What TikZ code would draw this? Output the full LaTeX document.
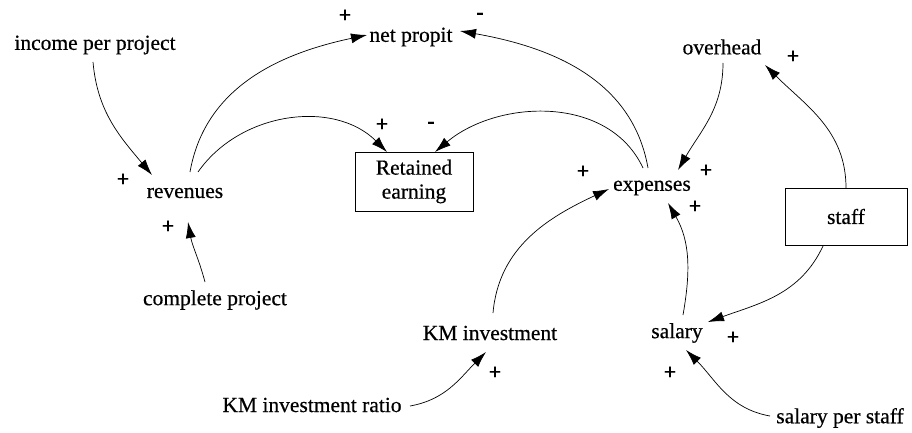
\documentclass[tikz,border=0pt]{standalone}
\usepackage{fontspec}
\setmainfont{Liberation Serif}[FakeBold=0.5]
\usetikzlibrary{arrows.meta}
\begin{document}
\begin{tikzpicture}[x=1pt,y=1pt,
  lbl/.style={font=\fontsize{21.5}{24}\selectfont, inner sep=1pt},
  boxnode/.style={draw, line width=0.9pt, minimum width=118pt, minimum height=59pt, align=center, font=\fontsize{21.5}{24}\selectfont, inner sep=1pt},
  sgn/.style={font=\fontsize{22}{24}\selectfont\bfseries, inner sep=0pt},
  link/.style={line width=0.7pt, -{Latex[length=16pt,width=10pt]}}]
\useasboundingbox (0,0) rectangle (912,432);
% nodes
\node[lbl] (inc) at (95,387) {income per project};
\node[lbl] (net) at (411,395) {net propit};
\node[lbl] (over) at (722,385) {overhead};
\node[lbl] (rev) at (185,239) {revenues};
\node[boxnode] (ret) at (414,250.5) {Retained\\earning};
\node[lbl] (exp) at (652,244) {expenses};
\node[boxnode, minimum width=122pt, minimum height=57pt] (staff) at (846,215.5) {staff};
\node[lbl] (comp) at (215,132) {complete project};
\node[lbl] (kmi) at (490,99) {KM investment};
\node[lbl] (sal) at (677,99) {salary};
\node[lbl] (kmr) at (312,27) {KM investment ratio};
\node[lbl] (sps) at (840,14) {salary per staff};
% connectors
\draw[link] ([shift={(-2,-17)}]inc.center) to[out=-85,in=130] ([shift={(-33,18)}]rev.center);
\draw[link] ([shift={(5,21)}]rev.center) to[out=80,in=192] ([shift={(-44,2)}]net.center);
\draw[link] ([shift={(13,21)}]rev.center) to[out=55,in=135] ([shift={(-27,29.5)}]ret.center);
\draw[link] ([shift={(-4,20)}]exp.center) to[out=100,in=350] ([shift={(49,6)}]net.center);
\draw[link] ([shift={(-9,20)}]exp.center) to[out=115,in=40] ([shift={(21,29.5)}]ret.center);
\draw[link] ([shift={(1,-16)}]over.center) to[out=270,in=60] ([shift={(26,18)}]exp.center);
\draw[link] ([shift={(0,28.5)}]staff.center) to[out=90,in=315] ([shift={(43,-18)}]over.center);
\draw[link] ([shift={(-23,-29.5)}]staff.center) to[out=245,in=20] ([shift={(31,11)}]sal.center);
\draw[link] ([shift={(6,18)}]sal.center) to[out=80,in=300] ([shift={(16,-15)}]exp.center);
\draw[link] ([shift={(3,20)}]kmi.center) to[out=85,in=205] ([shift={(-43,-1)}]exp.center);
\draw[link] ([shift={(-10,18)}]comp.center) to[out=105,in=280] ([shift={(3,-29)}]rev.center);
\draw[link] ([shift={(98,-1)}]kmr.center) to[out=10,in=225] ([shift={(-4,-19)}]kmi.center);
\draw[link] ([shift={(-70,2)}]sps.center) to[out=170,in=315] ([shift={(9,-17)}]sal.center);
% polarity signs
\node[sgn] (s1) at (123,252) {+};
\node[sgn] (s2) at (345,416) {+};
\node[sgn] (s3) at (382,307) {+};
\node[sgn] (s4) at (431,307) {-};
\node[sgn] (s5) at (480,416) {-};
\node[sgn] (s6) at (706,261) {+};
\node[sgn] (s7) at (793,375) {+};
\node[sgn] (s8) at (583,260) {+};
\node[sgn] (s9) at (695,225) {+};
\node[sgn] (s10) at (733,94) {+};
\node[sgn] (s11) at (670,59) {+};
\node[sgn] (s12) at (495,59) {+};
\node[sgn] (s13) at (168,205) {+};
\end{tikzpicture}
\end{document}
